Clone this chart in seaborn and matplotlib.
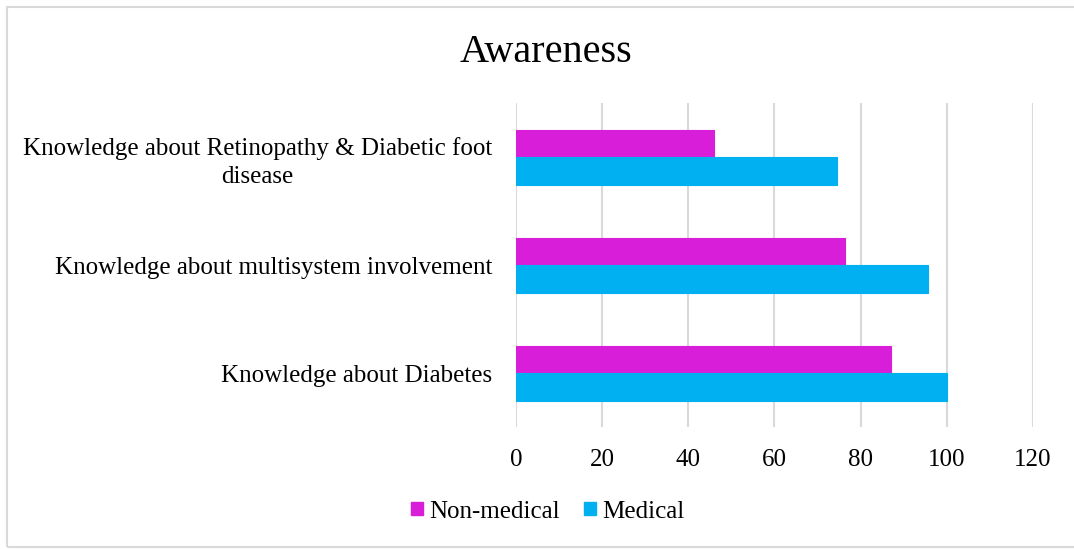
import matplotlib
matplotlib.use("Agg")
import matplotlib.pyplot as plt
import seaborn as sns
import pandas as pd
from matplotlib.patches import Rectangle

# data
categories = ["Knowledge about Retinopathy & Diabetic foot\ndisease",
              "Knowledge about multisystem involvement",
              "Knowledge about Diabetes"]
non_medical = [45.9, 76.4, 87.1]
medical = [74.4, 95.6, 100]
groups = ["Non-medical", "Medical"]
colors = ["#D91ED9", "#00B0F0"]

df = pd.DataFrame({
    "category": categories * 2,
    "group": [groups[0]] * 3 + [groups[1]] * 3,
    "value": non_medical + medical,
})

sns.set_style("white")
plt.rcParams["font.family"] = ["Liberation Serif", "DejaVu Serif"]
plt.rcParams["text.color"] = "black"
plt.rcParams["xtick.color"] = "black"
plt.rcParams["ytick.color"] = "black"

fig = plt.figure(figsize=(10.74, 5.49), dpi=100)
ax = fig.add_axes([0.4804, 0.2222, 0.4814, 0.5893])

sns.barplot(data=df, y="category", x="value", hue="group", order=categories,
            hue_order=groups, palette=colors, orient="h", width=0.51,
            ax=ax, saturation=1, linewidth=0.8, edgecolor=None)
for patch, col in zip(ax.patches, [colors[0]] * 3 + [colors[1]] * 3):
    patch.set_edgecolor(col)

ax.set_xlim(0, 120)
ax.set_xticks(range(0, 121, 20))
ax.set_ylim(2.5, -0.5)
ax.set_xlabel("")
ax.set_ylabel("")
for s in ax.spines.values():
    s.set_visible(False)
ax.grid(axis="x", color="#D9D9D9", linewidth=1.5)
ax.grid(axis="y", visible=False)
ax.set_axisbelow(True)
ax.tick_params(axis="both", length=0, labelsize=18, colors="black")
ax.tick_params(axis="x", pad=16)
ax.tick_params(axis="y", pad=17)
for lbl in ax.get_yticklabels():
    lbl.set_multialignment("center")
    lbl.set_linespacing(1.35)

ax.legend_.remove()
handles = [Rectangle((0, 0), 1, 1, color=c) for c in colors]
fig.legend(handles, groups, loc="center", bbox_to_anchor=(0.51, 0.068),
           ncol=2, frameon=False, fontsize=18, handlelength=0.45,
           handleheight=0.45, handletextpad=0.25, columnspacing=1.0)

fig.text(0.508, 0.905, "Awareness", ha="center", va="center", fontsize=29)

fig.patches.append(Rectangle((7 / 1074, 2 / 549), 1.0, 1 - 9 / 549,
                             transform=fig.transFigure, fill=False,
                             edgecolor="#D9D9D9", linewidth=1.5))

fig.savefig("out.png", dpi=100)
